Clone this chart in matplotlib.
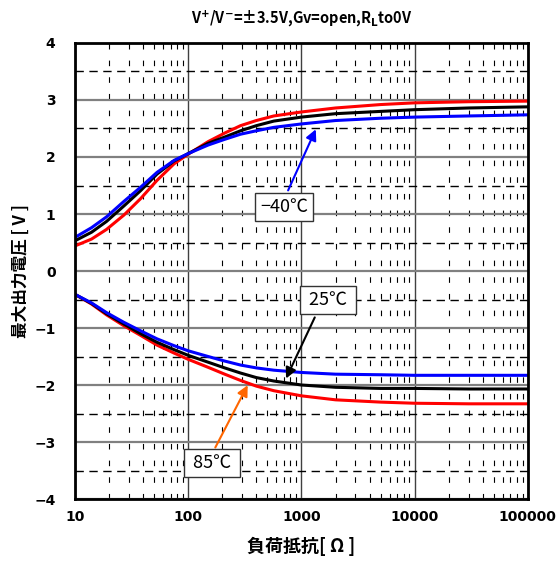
import numpy as np
import matplotlib
matplotlib.use('Agg')
import matplotlib.pyplot as plt
from matplotlib.ticker import FixedLocator, NullFormatter

plt.rcParams['font.family'] = ['Noto Sans CJK JP', 'DejaVu Sans']
plt.rcParams['axes.unicode_minus'] = True

# 負荷抵抗 [Ω]
rl = [10, 14, 19, 27, 38, 53, 75, 100, 150, 210, 290, 400, 570, 1000, 2000, 5000, 10000, 30000, 100000]

# 正側出力 [V]
vp_m40 = [0.59, 0.76, 0.95, 1.22, 1.47, 1.73, 1.94, 2.06, 2.21, 2.31, 2.40, 2.46, 2.52, 2.58, 2.64, 2.68, 2.70, 2.72, 2.74]
vp_25 = [0.53, 0.68, 0.87, 1.14, 1.41, 1.70, 1.93, 2.06, 2.24, 2.35, 2.46, 2.55, 2.63, 2.70, 2.76, 2.80, 2.83, 2.86, 2.88]
vp_85 = [0.44, 0.56, 0.73, 0.98, 1.27, 1.59, 1.88, 2.05, 2.27, 2.42, 2.55, 2.64, 2.72, 2.79, 2.86, 2.92, 2.95, 2.97, 2.98]

# 負側出力 [V]
vn_m40 = [-0.41, -0.56, -0.73, -0.90, -1.05, -1.19, -1.31, -1.40, -1.50, -1.58, -1.65, -1.70, -1.74, -1.78, -1.81, -1.82, -1.83, -1.83, -1.83]
vn_25 = [-0.41, -0.57, -0.75, -0.93, -1.10, -1.25, -1.38, -1.48, -1.60, -1.70, -1.79, -1.87, -1.93, -2.00, -2.04, -2.06, -2.06, -2.07, -2.07]
vn_85 = [-0.41, -0.58, -0.77, -0.96, -1.13, -1.30, -1.44, -1.55, -1.69, -1.81, -1.92, -2.02, -2.10, -2.19, -2.26, -2.30, -2.32, -2.33, -2.33]

xticks = [10, 100, 1000, 10000, 100000]
yticks = [-4, -3, -2, -1, 0, 1, 2, 3, 4]

fig = plt.figure(figsize=(5.58, 5.65), dpi=100)
ax = fig.add_axes([0.1344, 0.1168, 0.8116, 0.8071])

ax.set_xscale('log')
ax.set_xlim(10, 100000)
ax.set_ylim(-4, 4)

# グリッド
ax.set_xticks(xticks)
ax.set_xticklabels([str(t) for t in xticks])
ax.xaxis.set_minor_locator(FixedLocator([m * 10 ** e for e in range(1, 5) for m in range(2, 10)]))
ax.xaxis.set_minor_formatter(NullFormatter())
ax.set_yticks(yticks)
ax.set_yticklabels([str(t).replace('-', '\u2212') for t in yticks])
ax.yaxis.set_minor_locator(FixedLocator(np.arange(-3.5, 4, 1.0)))

ax.grid(which='major', axis='y', color='#808080', lw=1.6, ls='-')
ax.grid(which='minor', axis='y', color='black', lw=1.0, ls=(0, (6, 4)))
ax.grid(which='major', axis='x', color='#404040', lw=1.0, ls='-')
ax.grid(which='minor', axis='x', color='black', lw=0.8, ls=(0, (5, 10)))
ax.set_axisbelow(True)

ax.tick_params(which='both', length=0)
ax.tick_params(axis='y', pad=14)
ax.tick_params(axis='x', pad=8)
for lab in ax.get_xticklabels() + ax.get_yticklabels():
    lab.set_fontweight('bold')
    lab.set_fontsize(10)
    lab.set_family(['DejaVu Sans'])

for s in ax.spines.values():
    s.set_linewidth(2)

# 曲線
ax.plot(rl, vp_85, color='#ff0000', lw=2.2)
ax.plot(rl, vp_25, color='black', lw=2.2)
ax.plot(rl, vp_m40, color='#0000ff', lw=2.2)
ax.plot(rl, vn_85, color='#ff0000', lw=2.2)
ax.plot(rl, vn_25, color='black', lw=2.2)
ax.plot(rl, vn_m40, color='#0000ff', lw=2.2)

# ラベルと矢印
box = dict(boxstyle='square,pad=0.28', fc='white', ec='#333333', lw=1)
ax.annotate('', xy=(1371, 2.53), xytext=(745, 1.37),
            arrowprops=dict(arrowstyle='-|>', color='#0000ff', lw=1.5, mutation_scale=16))
ax.text(700, 1.13, '\u221240\u2103', fontsize=13, ha='center', va='center', bbox=box)

ax.annotate('', xy=(714, -1.93), xytext=(1343, -0.77),
            arrowprops=dict(arrowstyle='-|>', color='black', lw=1.5, mutation_scale=16))
ax.text(1714, -0.51, ' 25\u2103 ', fontsize=13, ha='center', va='center', bbox=box)

ax.annotate('', xy=(344, -1.96), xytext=(169, -3.14),
            arrowprops=dict(arrowstyle='-|>', color='#ff6600', lw=1.5, mutation_scale=16))
ax.text(162, -3.37, ' 85\u2103 ', fontsize=13, ha='center', va='center', bbox=box)

ax.set_title(r'V$^{\mathbf{+}}$/V$^{\mathbf{-}}$=±3.5V,Gv=open,R$_{\mathbf{L}}$to0V',
             fontsize=10.5, fontweight='bold', pad=14)
ax.set_xlabel('負荷抵抗[ Ω ]', fontsize=13, fontweight='bold')
ax.set_ylabel('最大出力電圧 [ V ]', fontsize=12, fontweight='bold')
ax.xaxis.set_label_coords(0.5, -0.083)
ax.yaxis.set_label_coords(-0.099, 0.5)

fig.savefig('out.png', dpi=100)
